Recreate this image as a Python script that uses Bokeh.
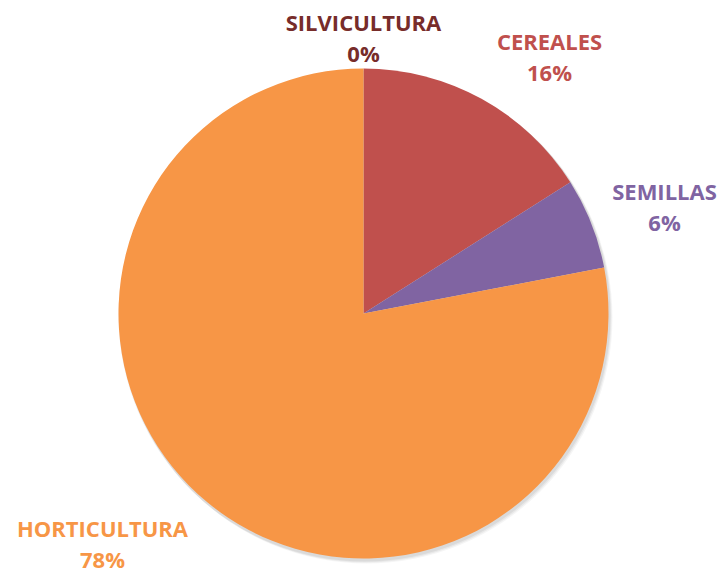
import math
from bokeh.plotting import figure
from bokeh.models import Range1d, ColumnDataSource
from bokeh.core.properties import value
from bokeh.embed import file_html
from bokeh.resources import INLINE

# ---- data ----
categories = ["CEREALES", "SEMILLAS", "HORTICULTURA", "SILVICULTURA"]
shares = [16.0, 6.0, 78.0, 0.0]
pct_labels = ["16%", "6%", "78%", "0%"]

# ---- style / layout ----
slice_colors = ["#C0504D", "#8064A2", "#F79646", "#772C2A"]
label_colors = ["#C0504D", "#8064A2", "#F79646", "#772C2A"]
W, H = 721, 574
CX, CY, R = 363, 261, 245
# label centre offsets relative to pie centre (layout only)
label_dx = [186, 301, -261, 0]
label_dy = [257, 107, -230, 276]
LINE_GAP = 31
FONT = "Open Sans"
FSIZE = "22px"

total = sum(shares)
starts, ends, cols = [], [], []
cum = 0.0
for s, c in zip(shares, slice_colors):
    a0 = math.pi / 2 - cum / total * 2 * math.pi
    cum += s
    a1 = math.pi / 2 - cum / total * 2 * math.pi
    if s > 0:  # a zero-angle wedge would render as a full circle
        starts.append(a0)
        ends.append(a1)
        cols.append(c)

src = ColumnDataSource(dict(start=starts, end=ends, color=cols))

p = figure(width=W, height=H, output_backend="svg", toolbar_location=None,
           x_range=Range1d(0, W), y_range=Range1d(0, H), min_border=0)
p.axis.visible = False
p.grid.visible = False
p.outline_line_color = None
p.background_fill_color = "white"

# soft shadow
for i, a in enumerate([0.06, 0.05, 0.04]):
    p.circle(x=[CX + 1 + i], y=[CY - 2 - i], radius=R + 1, fill_color="black",
             fill_alpha=a, line_color=None)

p.wedge(x=CX, y=CY, radius=R, start_angle="start", end_angle="end",
        direction="clock", fill_color="color", line_color=None, source=src)

lx = [CX + dx for dx in label_dx]
ly = [CY + dy for dy in label_dy]
tsrc = ColumnDataSource(dict(x=lx, y1=[y + LINE_GAP / 2 for y in ly],
                             y2=[y - LINE_GAP / 2 for y in ly],
                             name=categories, pct=pct_labels, color=label_colors))
for ycol, tcol in (("y1", "name"), ("y2", "pct")):
    p.text(x="x", y=ycol, text=tcol, source=tsrc, text_color="color",
           text_font=value(FONT), text_font_style="bold", text_font_size=FSIZE,
           text_align="center", text_baseline="middle")

open("out.html", "w").write(file_html(p, INLINE))
